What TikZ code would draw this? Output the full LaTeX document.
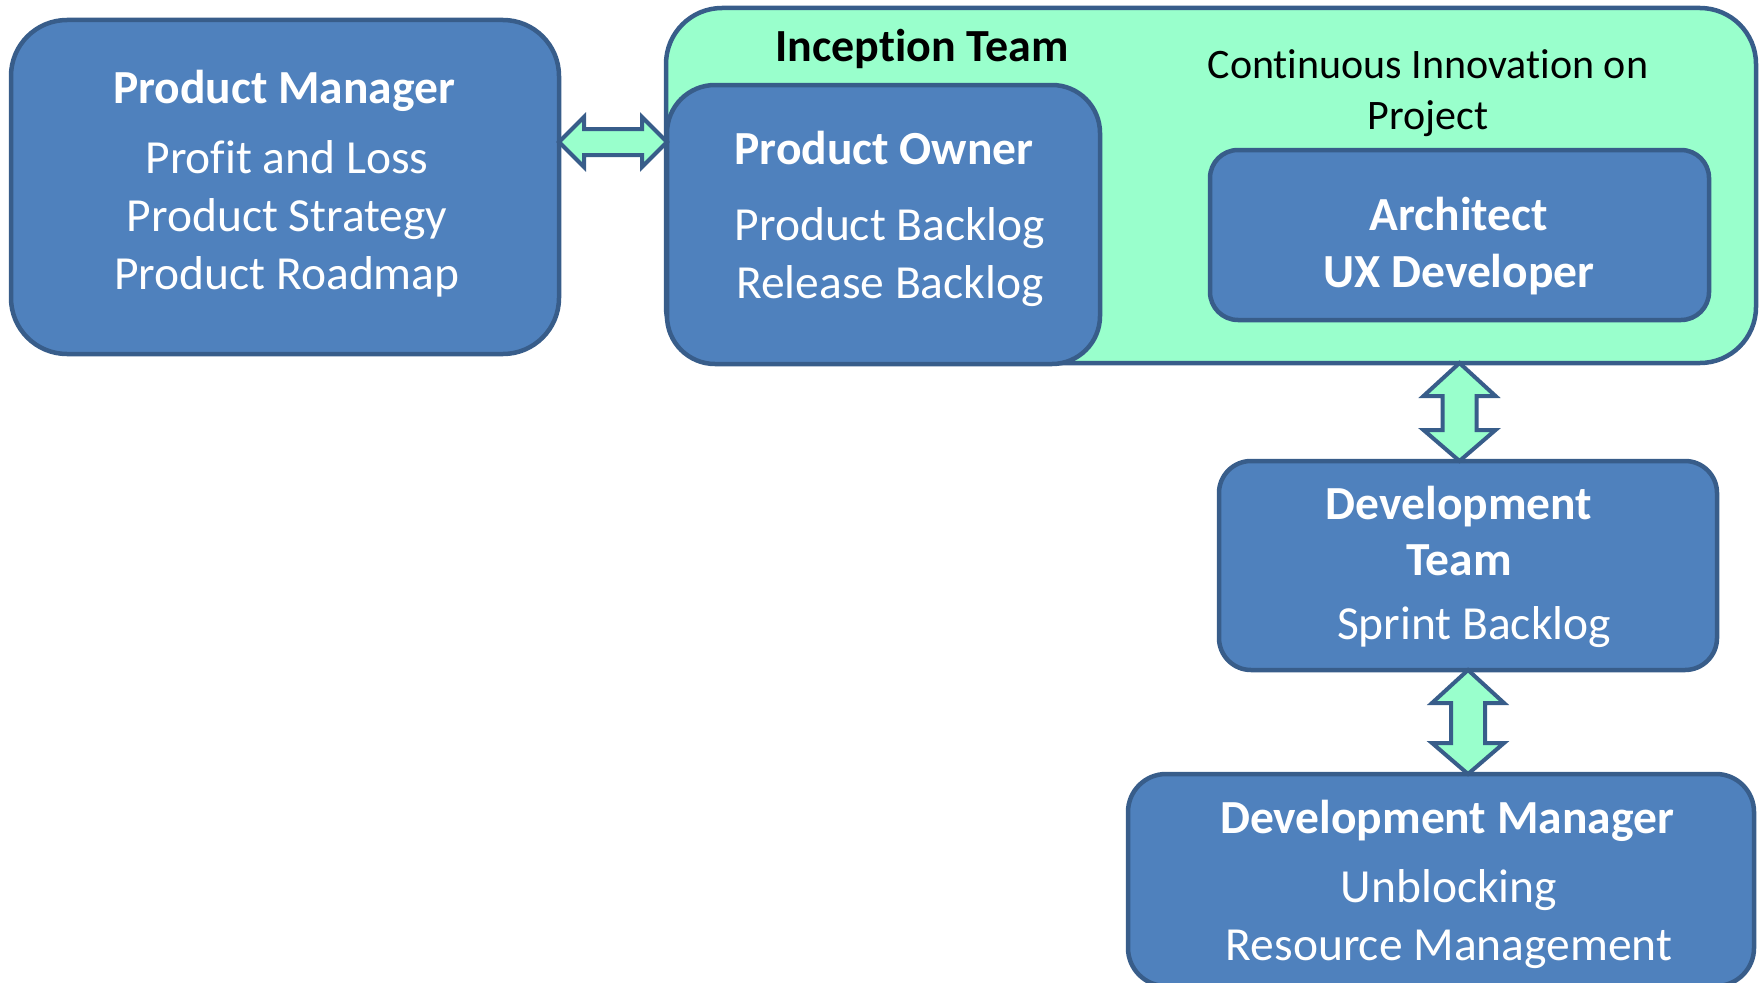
\documentclass[tikz,border=0pt]{standalone}
\usepackage{fontspec}
\setmainfont[Ligatures=NoCommon]{Carlito}
\usetikzlibrary{calc}
\definecolor{boxblue}{HTML}{4F81BD}
\definecolor{boxline}{HTML}{385D8A}
\definecolor{mint}{HTML}{99FFCC}

\tikzset{
  card/.style={draw=boxline, fill=boxblue, line width=4.5pt, inner sep=0pt, outer sep=0pt},
  teambox/.style={draw=boxline, fill=mint, line width=4.5pt, inner sep=0pt, outer sep=0pt},
  head/.style={anchor=base, inner sep=0pt, text=white, font=\fontsize{47.5}{57}\selectfont\bfseries},
  item/.style={anchor=base, inner sep=0pt, text=white, font=\fontsize{47.5}{57}\selectfont},
  blockarrow/.style={draw=boxline, fill=mint, line width=4pt, line join=miter},
}

% vertical double block arrow between two points (top, bottom)
\newcommand\vblock[2]{%
  \draw[blockarrow] (#1) -- ($(#1)+(36,33)$) -- ($(#1)+(17,33)$) -- ($(#2)+(17,-31)$)
    -- ($(#2)+(36,-31)$) -- (#2) -- ($(#2)+(-36,-31)$) -- ($(#2)+(-17,-31)$)
    -- ($(#1)+(-17,33)$) -- ($(#1)+(-36,33)$) -- cycle;}
% horizontal double block arrow between two points (left, right)
\newcommand\hblock[2]{%
  \draw[blockarrow] (#1) -- ($(#1)+(25,-25)$) -- ($(#1)+(25,-13)$) -- ($(#2)+(-25,-13)$)
    -- ($(#2)+(-25,-25)$) -- (#2) -- ($(#2)+(-25,25)$) -- ($(#2)+(-25,13)$)
    -- ($(#1)+(25,13)$) -- ($(#1)+(25,25)$) -- cycle;}

\begin{document}
\begin{tikzpicture}[x=1pt,y=-1pt]
\useasboundingbox (0,0) rectangle (1763,982);

% Product manager
\node[card, rounded corners=56pt, minimum width=548pt, minimum height=334pt] (pm) at (285,187) {};
\node[head] (pmt) at (284,103) {Product Manager};
\node[item] (pm1) at (287,173) {Profit and Loss};
\node[item] (pm2) at (287,231) {Product Strategy};
\node[item] (pm3) at (287,289) {Product Roadmap};

% Inception team
\node[teambox, rounded corners=56pt, minimum width=1090pt, minimum height=355pt] (inc) at (1211,185.5) {};
\node[anchor=base, inner sep=0pt, font=\fontsize{46}{55}\selectfont\bfseries] (inct) at (922,62) {Inception Team};
\node[anchor=base, inner sep=0pt, font=\fontsize{42}{51}\selectfont] (ci1) at (1428,78) {Continuous Innovation on};
\node[anchor=base, inner sep=0pt, font=\fontsize{42}{51}\selectfont] (ci2) at (1428,129) {Project};

% Product owner
\node[card, rounded corners=48pt, minimum width=433pt, minimum height=279pt] (po) at (883.5,224.5) {};
\node[head] (pot) at (884,164) {Product Owner};
\node[item] (po1) at (890,240) {Product Backlog};
\node[item] (po2) at (890,298) {Release Backlog};

% Architect / UX
\node[card, rounded corners=28pt, minimum width=499pt, minimum height=170pt] (arch) at (1459.5,235) {};
\node[head] (ar1) at (1459,230) {Architect};
\node[head] (ar2) at (1459,287) {UX Developer};

% Development team
\node[card, rounded corners=32pt, minimum width=498pt, minimum height=209pt] (dt) at (1468,565.5) {};
\node[head] (dt1) at (1459,519) {Development};
\node[head] (dt2) at (1459,575) {Team};
\node[item] (dt3) at (1474,639) {Sprint Backlog};

% Development manager
\node[card, rounded corners=38pt, minimum width=626pt, minimum height=212pt] (dm) at (1441,880) {};
\node[head] (dmt) at (1447,833) {Development Manager};
\node[item] (dm1) at (1449,902) {Unblocking};
\node[item] (dm2) at (1449,960) {Resource Management};

% connectors
\coordinate (lvl) at (0,142);
\hblock{pm.east |- lvl}{po.west |- lvl}
\vblock{inc.south -| arch.south}{dt.north -| arch.south}
\vblock{dt.south}{dm.north -| dt.south}
\end{tikzpicture}
\end{document}
